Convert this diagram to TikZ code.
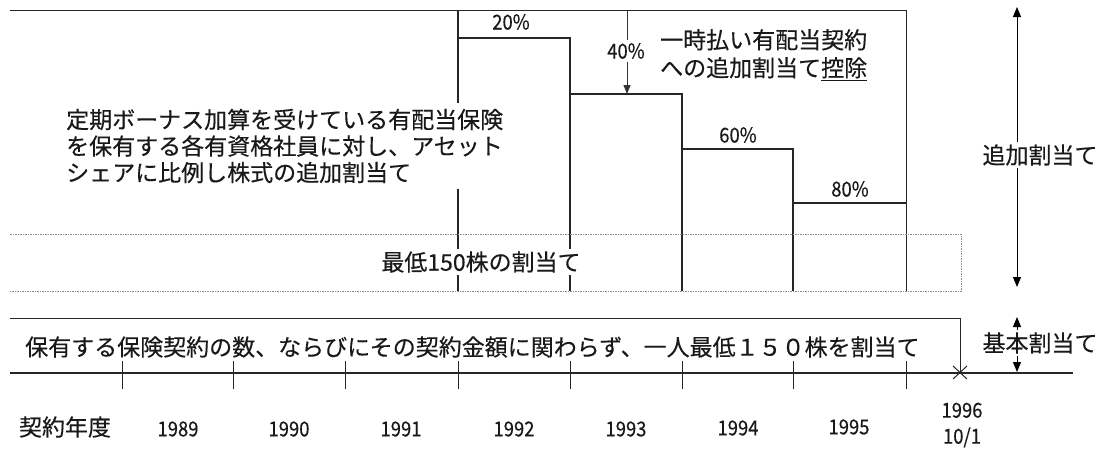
\documentclass[tikz,border=0pt]{standalone}
\usepackage{fontspec}
\setmainfont{Noto Sans CJK JP}[FakeBold=0.3]
\newfontfamily\numfont{Noto Sans CJK JP}[FakeStretch=0.9,FakeBold=0.4]
\usetikzlibrary{arrows.meta}
\begin{document}
\begin{tikzpicture}[x=1pt,y=-1pt,
  frame/.style={line width=1pt, black!85},
  stepline/.style={line width=1.2pt, black!85},
  dotline/.style={line width=0.8pt, black!45, dash pattern=on 1.5pt off 1pt},
  axisline/.style={line width=1.3pt, black!85},
  jtext/.style={font=\fontsize{23}{26.5}\selectfont, inner sep=0pt, text=black!90},
  ntext/.style={font=\numfont\fontsize{20.5}{26}\selectfont, inner sep=0pt, text=black!90},
  cover/.style={fill=white, inner sep=3pt},
  tip/.style={-{Triangle[width=7pt,length=9pt]}},
  dtip/.style={{Triangle[width=8pt,length=10pt]}-{Triangle[width=8pt,length=10pt]}},
]
\useasboundingbox (0,0) rectangle (1104,450);

% ---------- coordinates ----------
\coordinate (tl) at (10,10);
\coordinate (tr) at (906,10);
\coordinate (rb) at (906,291);
\coordinate (v0t) at (458,10);
\coordinate (v0b) at (458,291);
\coordinate (s1a) at (458,38);  \coordinate (s1b) at (570,38);  \coordinate (v1b) at (570,291);
\coordinate (s2a) at (570,94);  \coordinate (s2b) at (682,94);  \coordinate (v2b) at (682,291);
\coordinate (s3a) at (682,149); \coordinate (s3b) at (793,149); \coordinate (v3b) at (793,291);
\coordinate (s4a) at (793,203); \coordinate (s4b) at (906,203);

% ---------- upper frame and steps ----------
\draw[frame] (tl) -- (tr) -- (rb);
\draw[stepline] (v0t) -- (v0b);
\draw[stepline] (s1a) -- (s1b) -- (v1b);
\draw[stepline] (s2a) -- (s2b) -- (v2b);
\draw[stepline] (s3a) -- (s3b) -- (v3b);
\draw[stepline] (s4a) -- (s4b);

% ---------- dotted band ----------
\coordinate (d1) at (10,234);
\coordinate (d2) at (961,234);
\coordinate (d3) at (961,291);
\coordinate (d4) at (10,291);
\draw[dotline] (d1) -- (d2) -- (d3) -- (d4);

% ---------- base box and axis ----------
\coordinate (b1) at (10,318);
\coordinate (b2) at (960,318);
\coordinate (x96) at (960,373);
\coordinate (a0) at (10,373);
\coordinate (a1) at (1073,373);
\draw[frame] (b1) -- (b2) -- (x96);
\draw[axisline] (a0) -- (a1);
\foreach \x in {122,233,345,458,570,682,793,906}
  \draw[frame] (\x,361) -- (\x,389);
\draw[frame] ([shift={(-7,-7)}]x96) -- ([shift={(7,6)}]x96);
\draw[frame] ([shift={(-7,6)}]x96) -- ([shift={(7,-7)}]x96);

% ---------- 40% arrow ----------
\coordinate (ar0) at (627,10);
\coordinate (ar1) at (627,94);
\draw[line width=0.8pt, black!80, tip] (ar0) -- (ar1);

% ---------- right side arrows ----------
\coordinate (ra0) at (1017,7);
\coordinate (ra1) at (1017,287);
\coordinate (rb0) at (1017,317);
\coordinate (rb1) at (1017,372);
\draw[line width=1pt, dtip] (ra0) -- (ra1);
\draw[line width=1pt, dtip] (rb0) -- (rb1);

% ---------- texts ----------
\node[ntext] (p20) at (511,22) {20\%};
\node[ntext, cover] (p40) at (626,51) {40\%};
\node[ntext] (p60) at (738,135) {60\%};
\node[ntext] (p80) at (850,189) {80\%};

\node[jtext, font=\fontsize{23}{28}\selectfont, anchor=north west, align=left] (ded) at (660,29)
  {一時払い有配当契約\\への追加割当て\underline{控除}};

\node[jtext, cover, inner sep=6pt, anchor=west, align=left] (main) at (60,146)
  {定期ボーナス加算を受けている有配当保険\\を保有する各有資格社員に対し、アセット\\シェアに比例し株式の追加割当て};

\node[jtext, cover, inner sep=2pt] (min) at (481,262) {最低150株の割当て};

\node[jtext, anchor=west] (base) at (25,347)
  {保有する保険契約の数、ならびにその契約金額に関わらず、一人最低１５０株を割当て};

\node[jtext, cover, inner sep=2pt] (add) at (1040,155) {追加割当て};
\node[jtext, cover, inner sep=2pt] (basic) at (1040,343) {基本割当て};

\node[jtext] (fy) at (65,427) {契約年度};
\node[ntext] (y89) at (178,429) {1989};
\node[ntext] (y90) at (289,429) {1990};
\node[ntext] (y91) at (401,429) {1991};
\node[ntext] (y92) at (514,429) {1992};
\node[ntext] (y93) at (626,429) {1993};
\node[ntext] (y94) at (738,428) {1994};
\node[ntext] (y95) at (849,427) {1995};
\node[ntext, align=center] (y96) at (962,425) {1996\\10/1};
\end{tikzpicture}
\end{document}
